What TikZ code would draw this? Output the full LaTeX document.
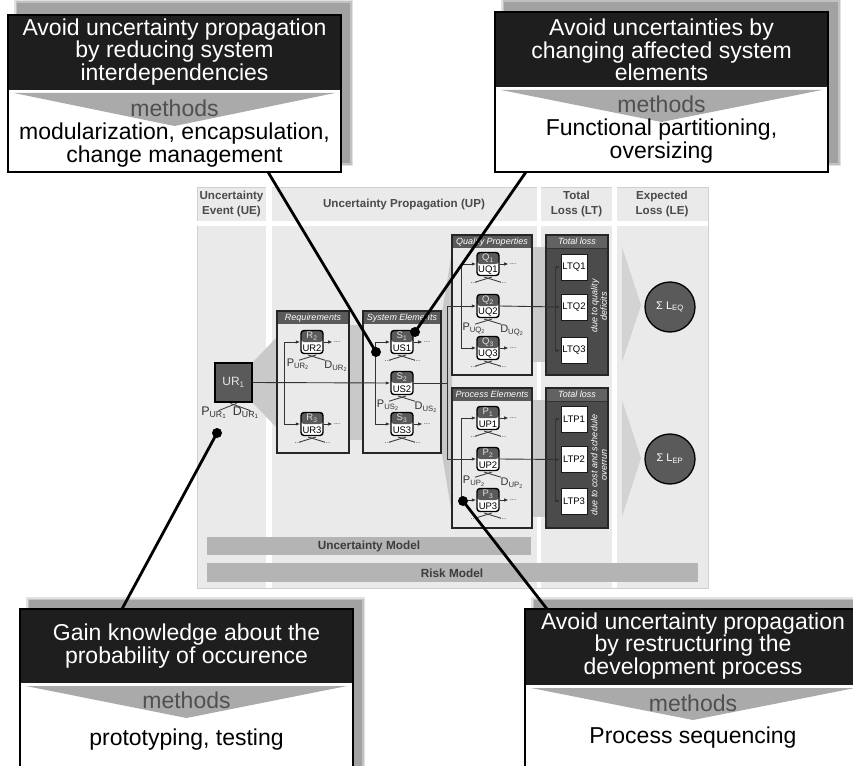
\documentclass[tikz,border=0pt]{standalone}
\usepackage{fontspec}
\setmainfont{Liberation Sans}
\usetikzlibrary{arrows.meta,calc}
\definecolor{panelbg}{HTML}{EAEAEA}
\definecolor{panelline}{HTML}{D0D0D0}
\definecolor{bandgray}{HTML}{C9C9C9}
\definecolor{trigray}{HTML}{D3D3D3}
\definecolor{bargray}{HTML}{B4B4B4}
\definecolor{bartext}{HTML}{3C3C3C}
\definecolor{darkbox}{HTML}{5A5A5A}
\definecolor{tlbody}{HTML}{4B4B4B}
\definecolor{tlhead}{HTML}{626262}
\definecolor{hdrtext}{HTML}{4A4A4A}
\definecolor{calloutblack}{HTML}{1E1E1E}
\definecolor{methodgray}{HTML}{AAAAAA}
\definecolor{methodtext}{HTML}{505050}
\definecolor{shadowgray}{HTML}{A2A2A2}

\newcommand{\mkelem}[4]{%
  \node[elem] (#1) at (#2) {};
  \node[elemtop] at ($(#1.center)+(0,-5.6)$) {#3};
  \node[elembot] at ($(#1.center)+(0,5.8)$) {#4};}
\newcommand{\crossmk}[1]{%
  \draw[xline] ($(#1.south)+(-13,6)$) -- ($(#1.south)+(4,0.8)$);
  \draw[xline] ($(#1.south)+(13,6)$) -- ($(#1.south)+(-4,0.8)$);}
\newcommand{\dotsbelow}[1]{%
  \node[dottxt] at ($(#1.south)+(-14,6.5)$) {...};
  \node[dottxt] at ($(#1.south)+(15,6.5)$) {...};}
\newcommand{\pdlabels}[2]{%
  \node[pdtxt] at ($(#1.south)+(-14,10)$) {P\textsubscript{#2}};
  \node[pdtxt] at ($(#1.south)+(24,12)$) {D\textsubscript{#2}};}
\newcommand{\outstub}[1]{%
  \draw[arr] (#1.east) -- ++(9,0) node[dottxt, anchor=west] {...};}
\newcommand{\softshadow}[4]{%
  \fill[shadowgray, opacity=0.3] ({#1-3},{#2-3}) rectangle ({#3+3},{#4+3});
  \fill[shadowgray, opacity=0.5] ({#1-1.5},{#2-1.5}) rectangle ({#3+1.5},{#4+1.5});
  \fill[shadowgray] (#1,#2) rectangle (#3,#4);}

\begin{document}
\begin{tikzpicture}[x=1pt,y=-1pt,
  conn/.style={line width=0.9pt, draw=black!80},
  arr/.style={conn, -{Latex[length=4.5pt,width=3.4pt]}},
  xline/.style={line width=0.9pt, draw=black!75},
  elem/.style={draw=black, line width=1.4pt, rounded corners=3pt,
    minimum width=22pt, minimum height=23pt, inner sep=0pt, fill=white,
    path picture={\fill[darkbox] (path picture bounding box.north west) rectangle (path picture bounding box.east);}},
  elemtop/.style={text=white!88!black, font=\fontsize{9.5}{10}\selectfont, inner sep=0pt},
  elembot/.style={text=black, font=\fontsize{9.5}{10}\selectfont, inner sep=0pt},
  container/.style={draw=black!85, line width=1.3pt, fill=panelbg, inner sep=0pt, outer sep=0pt,
    path picture={\fill[darkbox] (path picture bounding box.north west) rectangle ([yshift=-13pt]path picture bounding box.north east);}},
  tlcontainer/.style={draw=black!85, line width=1.3pt, fill=tlbody, inner sep=0pt, outer sep=0pt,
    path picture={\fill[tlhead] (path picture bounding box.north west) rectangle ([yshift=-13pt]path picture bounding box.north east);
      \draw[black!80, line width=0.8pt] ([yshift=-13pt]path picture bounding box.north west) -- ([yshift=-13pt]path picture bounding box.north east);}},
  boxtitle/.style={text=white, font=\fontsize{9}{10}\selectfont\itshape, inner sep=0pt},
  ltbox/.style={draw=black!90, line width=1pt, fill=white, minimum width=26pt, minimum height=26pt, inner sep=0pt,
    font=\fontsize{9.5}{10}\selectfont},
  losscircle/.style={circle, draw=black, line width=1.3pt, fill=darkbox, minimum size=50pt, inner sep=0pt,
    text=white, font=\fontsize{11}{12}\selectfont},
  dottxt/.style={text=black!70, font=\fontsize{8}{8}\selectfont, inner sep=0.6pt},
  pdtxt/.style={text=black!80, font=\fontsize{11}{12}\selectfont, inner sep=0pt},
  colhead/.style={text=hdrtext, align=center, font=\fontsize{11.6}{14}\selectfont\bfseries, inner sep=0pt},
  bartxt/.style={text=bartext, font=\fontsize{11.8}{13}\selectfont\bfseries, inner sep=0pt},
  rottxt/.style={rotate=90, text=white, align=center, font=\fontsize{9}{9.5}\selectfont\itshape, inner sep=0pt},
  ctitle/.style={text=white, align=center, font=\fontsize{23}{22.5}\selectfont, inner sep=0pt},
  cmethods/.style={text=methodtext, font=\fontsize{23}{23}\selectfont, inner sep=0pt},
  cbody/.style={text=black, align=center, font=\fontsize{23}{22.5}\selectfont, inner sep=0pt},
  callline/.style={line width=2.8pt, draw=black},
  dotnode/.style={circle, fill=black, minimum size=10pt, inner sep=0pt}
]
\useasboundingbox (0,0) rectangle (853,765);
\fill[white] (0,0) rectangle (853,765);

% ---------- main panel ----------
\fill[panelbg, draw=panelline, line width=0.8pt] (197,187) rectangle (708,588);
\fill[white] (266,187) rectangle (272,588);
\fill[white] (537,187) rectangle (541,588);
\fill[white] (612,187) rectangle (617,588);
\fill[white] (197,221) rectangle (708,226);

\node[colhead] (hUE) at (231.5,204) {Uncertainty\\Event (UE)};
\node[colhead] (hUP) at (404,205) {Uncertainty Propagation (UP)};
\node[colhead] (hLT) at (576.5,204) {Total\\Loss (LT)};
\node[colhead] (hLE) at (662,204) {Expected\\Loss (LE)};

% gray propagation bands
\fill[bandgray] (252,363) -- (277,337) -- (277,428) -- (252,402) -- cycle;
\fill[bandgray] (349,325) rectangle (363,440);
\fill[bandgray] (441,318) -- (452,252) -- (452,515) -- (441,448) -- cycle;
\fill[bandgray] (532,247) rectangle (546,362);
\fill[bandgray] (532,400) rectangle (546,517);
\fill[trigray] (622,247) -- (641,305) -- (622,362) -- cycle;
\fill[trigray] (622,400) -- (641,458) -- (622,517) -- cycle;

% model bars
\fill[bargray] (207,537) rectangle (531,555);
\node[bartxt] (um) at (369,546.5) {Uncertainty Model};
\fill[bargray] (207,563) rectangle (698,582);
\node[bartxt] (rm) at (452,573) {Risk Model};

% containers
\node[container, minimum width=72pt, minimum height=142pt] (req) at (313,382) {};
\node[boxtitle] at ($(req.north)+(0,6.7)$) {Requirements};
\node[container, minimum width=78pt, minimum height=142pt] (sys) at (402,382) {};
\node[boxtitle] at ($(sys.north)+(0,6.7)$) {System Elements};
\node[container, minimum width=80pt, minimum height=140pt] (qual) at (492,305) {};
\node[boxtitle] at ($(qual.north)+(0,6.7)$) {Quality Properties};
\node[container, minimum width=80pt, minimum height=140pt] (proc) at (492,458) {};
\node[boxtitle] at ($(proc.north)+(0,6.7)$) {Process Elements};
\node[tlcontainer, minimum width=62pt, minimum height=140pt] (tlq) at (577,305) {};
\node[boxtitle] at ($(tlq.north)+(0,6.7)$) {Total loss};
\node[tlcontainer, minimum width=62pt, minimum height=140pt] (tlp) at (577,458) {};
\node[boxtitle] at ($(tlp.north)+(0,6.7)$) {Total loss};

\node[rottxt] at (599,306) {due to quality\\deficits};
\node[rottxt] at (599,465) {due to cost and schedule\\overrun};

% uncertainty event
\node[draw=black, line width=1.3pt, fill=darkbox, minimum width=37pt, minimum height=39pt, inner sep=0pt,
      text=white!90!black, font=\fontsize{12}{13}\selectfont] (UR1) at (233.5,382.5) {UR\textsubscript{1}};
\draw[xline] ($(UR1.south)+(-15,8)$) -- ($(UR1.south)+(3,0.8)$);
\draw[xline] ($(UR1.south)+(17,8)$) -- ($(UR1.south)+(-3,0.8)$);
\node[pdtxt, font=\fontsize{12.5}{13}\selectfont] at (214,412.5) {P\textsubscript{UR\textsubscript{1}}};
\node[pdtxt, font=\fontsize{12.5}{13}\selectfont] at (246,412.5) {D\textsubscript{UR\textsubscript{1}}};

% elements
\mkelem{R2}{312,342}{R\textsubscript{2}}{UR2}
\mkelem{R3}{312,424}{R\textsubscript{3}}{UR3}
\mkelem{S1}{402,342}{S\textsubscript{1}}{US1}
\mkelem{S2}{402,383}{S\textsubscript{2}}{US2}
\mkelem{S3}{402,424}{S\textsubscript{3}}{US3}
\mkelem{Q1}{488,264}{Q\textsubscript{1}}{UQ1}
\mkelem{Q2}{488,306}{Q\textsubscript{2}}{UQ2}
\mkelem{Q3}{488,348}{Q\textsubscript{3}}{UQ3}
\mkelem{P1}{488,418}{P\textsubscript{1}}{UP1}
\mkelem{P2}{488,459}{P\textsubscript{2}}{UP2}
\mkelem{P3}{488,500}{P\textsubscript{3}}{UP3}

\node[ltbox] (LTQ1) at (574,267) {LTQ1};
\node[ltbox] (LTQ2) at (574,307) {LTQ2};
\node[ltbox] (LTQ3) at (574,350.5) {LTQ3};
\node[ltbox] (LTP1) at (574,419) {LTP1};
\node[ltbox] (LTP2) at (574,459.5) {LTP2};
\node[ltbox] (LTP3) at (574,501) {LTP3};

\node[losscircle] (LEQ) at (670,307) {Σ L\textsubscript{EQ}};
\node[losscircle] (LEP) at (670,459) {Σ L\textsubscript{EP}};

% connectors
\coordinate (jr) at (284,383);
\coordinate (js) at (375,383);
\coordinate (jo) at (447,383);
\coordinate (jq) at (447,306);
\coordinate (jp) at (447,459);
\coordinate (jq2) at (461,306);
\coordinate (jp2) at (461,459);
\coordinate (jlq) at (555,307);
\coordinate (jlp) at (555,459.5);

\draw[arr] (UR1.east) -- (S2.west);
\draw[arr] (jr) |- (R2.west);
\draw[arr] (jr) |- (R3.west);
\draw[arr] (js) |- (S1.west);
\draw[arr] (js) |- (S3.west);
\draw[conn] (S2.east) -- (jo);
\draw[conn] (jq) -- (jp);
\draw[arr] (jq) -- (Q2.west);
\draw[arr] (jp) -- (P2.west);
\draw[arr] (jq2) |- (Q1.west);
\draw[arr] (jq2) |- (Q3.west);
\draw[arr] (jp2) |- (P1.west);
\draw[arr] (jp2) |- (P3.west);
\draw[arr] (Q2.east) -- (LTQ2.west);
\draw[arr] (P2.east) -- (LTP2.west);
\draw[arr] (jlq) |- (LTQ1.west);
\draw[arr] (jlq) |- (LTQ3.west);
\draw[arr] (jlp) |- (LTP1.west);
\draw[arr] (jlp) |- (LTP3.west);

\outstub{R2}\outstub{R3}\outstub{S1}\outstub{S3}
\outstub{Q1}\outstub{Q3}\outstub{P1}\outstub{P3}

\crossmk{R2}\crossmk{R3}\crossmk{S1}\crossmk{S2}\crossmk{S3}
\crossmk{Q1}\crossmk{Q2}\crossmk{Q3}\crossmk{P1}\crossmk{P2}\crossmk{P3}
\dotsbelow{R3}\dotsbelow{S1}\dotsbelow{S3}\dotsbelow{Q1}\dotsbelow{Q3}\dotsbelow{P1}\dotsbelow{P3}
\pdlabels{R2}{UR\textsubscript{2}}
\pdlabels{S2}{US\textsubscript{2}}
\pdlabels{Q2}{UQ\textsubscript{2}}
\pdlabels{P2}{UP\textsubscript{2}}

% ---------- callout 1 ----------
\softshadow{17}{3}{350}{163}
\fill[white] (8,90) rectangle (341,172);
\fill[calloutblack] (8,15) rectangle (341,90);
\fill[methodgray] (14,93) -- (335,93) -- (174.5,126) -- cycle;
\draw[black, line width=2pt] (8,15) rectangle (341,172);
\node[ctitle] (c1t) at (174.5,52) {Avoid uncertainty propagation\\by reducing system\\interdependencies};
\node[cmethods] (c1m) at (174.5,108) {methods};
\node[cbody] (c1b) at (174.5,145) {modularization, encapsulation,\\change management};
\coordinate (c1p) at (268,172);

% ---------- callout 2 ----------
\softshadow{504}{2}{838}{163}
\fill[white] (495,87) rectangle (828,172);
\fill[calloutblack] (495,12) rectangle (828,87);
\fill[methodgray] (501,90) -- (822,90) -- (661.5,122) -- cycle;
\draw[black, line width=2pt] (495,12) rectangle (828,172);
\node[ctitle] (c2t) at (661.5,50) {Avoid uncertainties by\\changing affected system\\elements};
\node[cmethods] (c2m) at (661.5,104) {methods};
\node[cbody] (c2b) at (661.5,141) {Functional partitioning,\\oversizing};
\coordinate (c2p) at (526,172);

% ---------- callout 3 ----------
\softshadow{29}{600}{362}{780}
\fill[white] (20,683) rectangle (353,780);
\fill[calloutblack] (20,609) rectangle (353,683);
\fill[methodgray] (26,686) -- (347,686) -- (186.5,718) -- cycle;
\draw[black, line width=2pt] (20,609) rectangle (353,780);
\node[ctitle] (c3t) at (186.5,646) {Gain knowledge about the\\probability of occurence};
\node[cmethods] (c3m) at (186.5,700) {methods};
\node[cbody] (c3b) at (186.5,740) {prototyping, testing};
\coordinate (c3p) at (122,609);

% ---------- callout 4 ----------
\softshadow{534}{600}{870}{780}
\fill[white] (525,685) rectangle (861,780);
\fill[calloutblack] (525,609) rectangle (861,685);
\fill[methodgray] (531,688) -- (855,688) -- (693,720) -- cycle;
\draw[black, line width=2pt] (525,609) rectangle (861,780);
\node[ctitle] (c4t) at (693,646) {Avoid uncertainty propagation\\by restructuring the\\development process};
\node[cmethods] (c4m) at (693,703) {methods};
\node[cbody] (c4b) at (693,738) {Process sequencing};
\coordinate (c4p) at (547,609);

% ---------- callout connectors ----------
\node[dotnode] (d1) at (376,352) {};
\node[dotnode] (d2) at (415,332) {};
\node[dotnode] (d3) at (217,433) {};
\node[dotnode] (d4) at (463,501) {};
\draw[callline] (c1p) -- (d1.center);
\draw[callline] (c2p) -- (d2.center);
\draw[callline] (c3p) -- (d3.center);
\draw[callline] (c4p) -- (d4.center);
\end{tikzpicture}
\end{document}
